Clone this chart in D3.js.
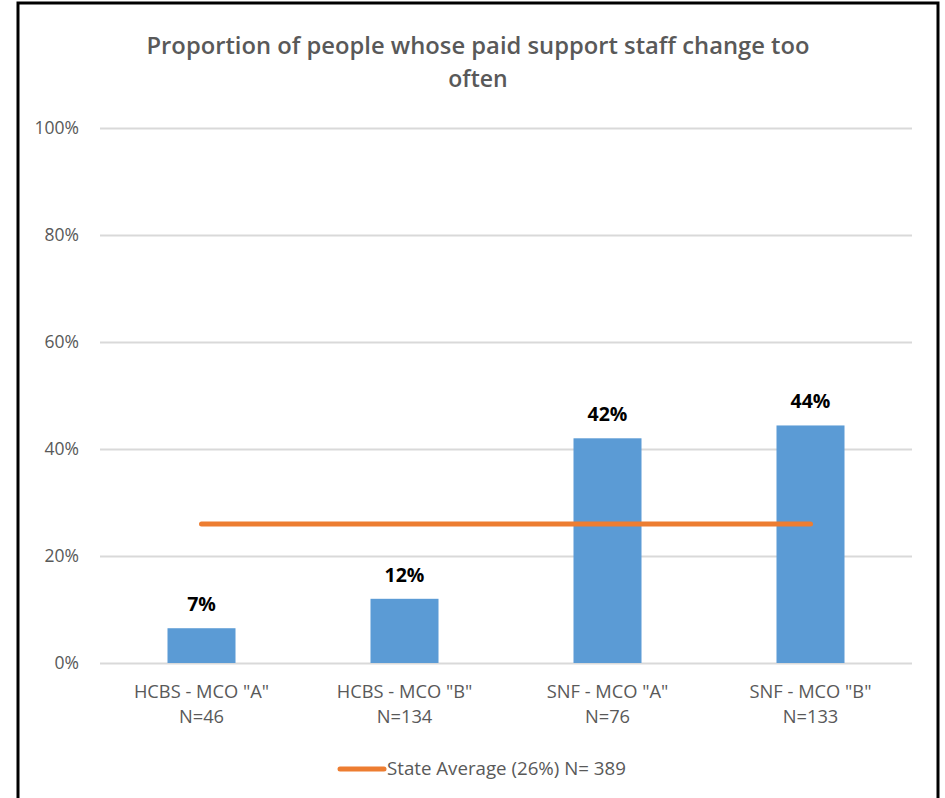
<!DOCTYPE html>
<html><head><meta charset="utf-8">
<script src="https://cdn.jsdelivr.net/npm/d3@7"></script>
<style>body{margin:0;background:#fff}svg{display:block}</style>
</head><body>
<script>
const categories = ['HCBS - MCO "A"', 'HCBS - MCO "B"', 'SNF - MCO "A"', 'SNF - MCO "B"'];
const sampleSizes = ['N=46', 'N=134', 'N=76', 'N=133'];
const values = [6.5, 12, 42, 44.4];
const valueLabels = ['7%', '12%', '42%', '44%'];
const stateAverage = 26;
const yTicks = [0, 20, 40, 60, 80, 100];
const titleLines = ['Proportion of people whose paid support staff change too', 'often'];
const legendLabel = 'State Average (26%) N= 389';

const W = 945, H = 798;
const svg = d3.select('body').append('svg').attr('width', W).attr('height', H);
svg.append('rect').attr('width', W).attr('height', H).attr('fill', '#fff');
// frame
svg.append('path').attr('d', 'M18,798 L18,3 L938,3 L938,798').attr('fill', 'none').attr('stroke', '#000').attr('stroke-width', 3);

const font = 'Open Sans, Noto Sans, sans-serif';
const x = d3.scaleBand().domain(categories).range([100, 912]).paddingInner(0.665).paddingOuter(0.3325);
const y = d3.scaleLinear().domain([0, 100]).range([663, 128]);

// title
svg.selectAll('.title').data(titleLines).join('text')
  .attr('x', 478).attr('y', (d, i) => 54 + i * 33)
  .attr('text-anchor', 'middle').attr('font-family', font).attr('font-weight', 600)
  .attr('font-size', 23).attr('fill', '#595959')
  .attr('textLength', (d, i) => i === 0 ? 663 : null).attr('lengthAdjust', 'spacingAndGlyphs')
  .text(d => d);

// gridlines + y axis
const yAxis = d3.axisLeft(y).tickValues(yTicks).tickSize(-812).tickFormat(d => d + '%');
const gy = svg.append('g').attr('transform', 'translate(100,0)').call(yAxis);
gy.select('.domain').remove();
gy.selectAll('.tick line').attr('stroke', '#d9d9d9').attr('stroke-width', 2);
gy.selectAll('.tick text').attr('x', -21).attr('font-family', font).attr('font-size', 17.5).attr('fill', '#595959');

// bars
svg.selectAll('.bar').data(values).join('rect')
  .attr('x', (d, i) => x(categories[i])).attr('width', x.bandwidth())
  .attr('y', d => y(d)).attr('height', d => y(0) - y(d)).attr('fill', '#5B9BD5');

// data labels
svg.selectAll('.lbl').data(values).join('text')
  .attr('x', (d, i) => x(categories[i]) + x.bandwidth() / 2).attr('y', d => y(d) - 17)
  .attr('text-anchor', 'middle').attr('font-family', font).attr('font-weight', 700)
  .attr('font-size', 19.5).attr('fill', '#000').text((d, i) => valueLabels[i]);

// state average line
const line = d3.line().x(d => x(d) + x.bandwidth() / 2).y(() => y(stateAverage));
svg.append('path').attr('d', line(categories)).attr('fill', 'none')
  .attr('stroke', '#ED7D31').attr('stroke-width', 5).attr('stroke-linecap', 'round');

// x axis labels
const xAxis = d3.axisBottom(x).tickSize(0).tickFormat('');
const gx = svg.append('g').attr('transform', 'translate(0,663)').call(xAxis);
gx.select('.domain').remove();
gx.selectAll('.tick').each(function(d, i) {
  const t = d3.select(this).append('text').attr('text-anchor', 'middle')
    .attr('font-family', font).attr('font-size', 18.3).attr('fill', '#595959');
  t.append('tspan').attr('x', 0).attr('y', 35).text(categories[i]);
  t.append('tspan').attr('x', 0).attr('y', 60).text(sampleSizes[i]);
});

// legend
svg.append('line').attr('x1', 340).attr('x2', 384).attr('y1', 769).attr('y2', 769)
  .attr('stroke', '#ED7D31').attr('stroke-width', 5).attr('stroke-linecap', 'round');
svg.append('text').attr('x', 387).attr('y', 775).attr('font-family', font).attr('font-size', 18.7)
  .attr('fill', '#595959').text(legendLabel);
</script>
</body></html>
